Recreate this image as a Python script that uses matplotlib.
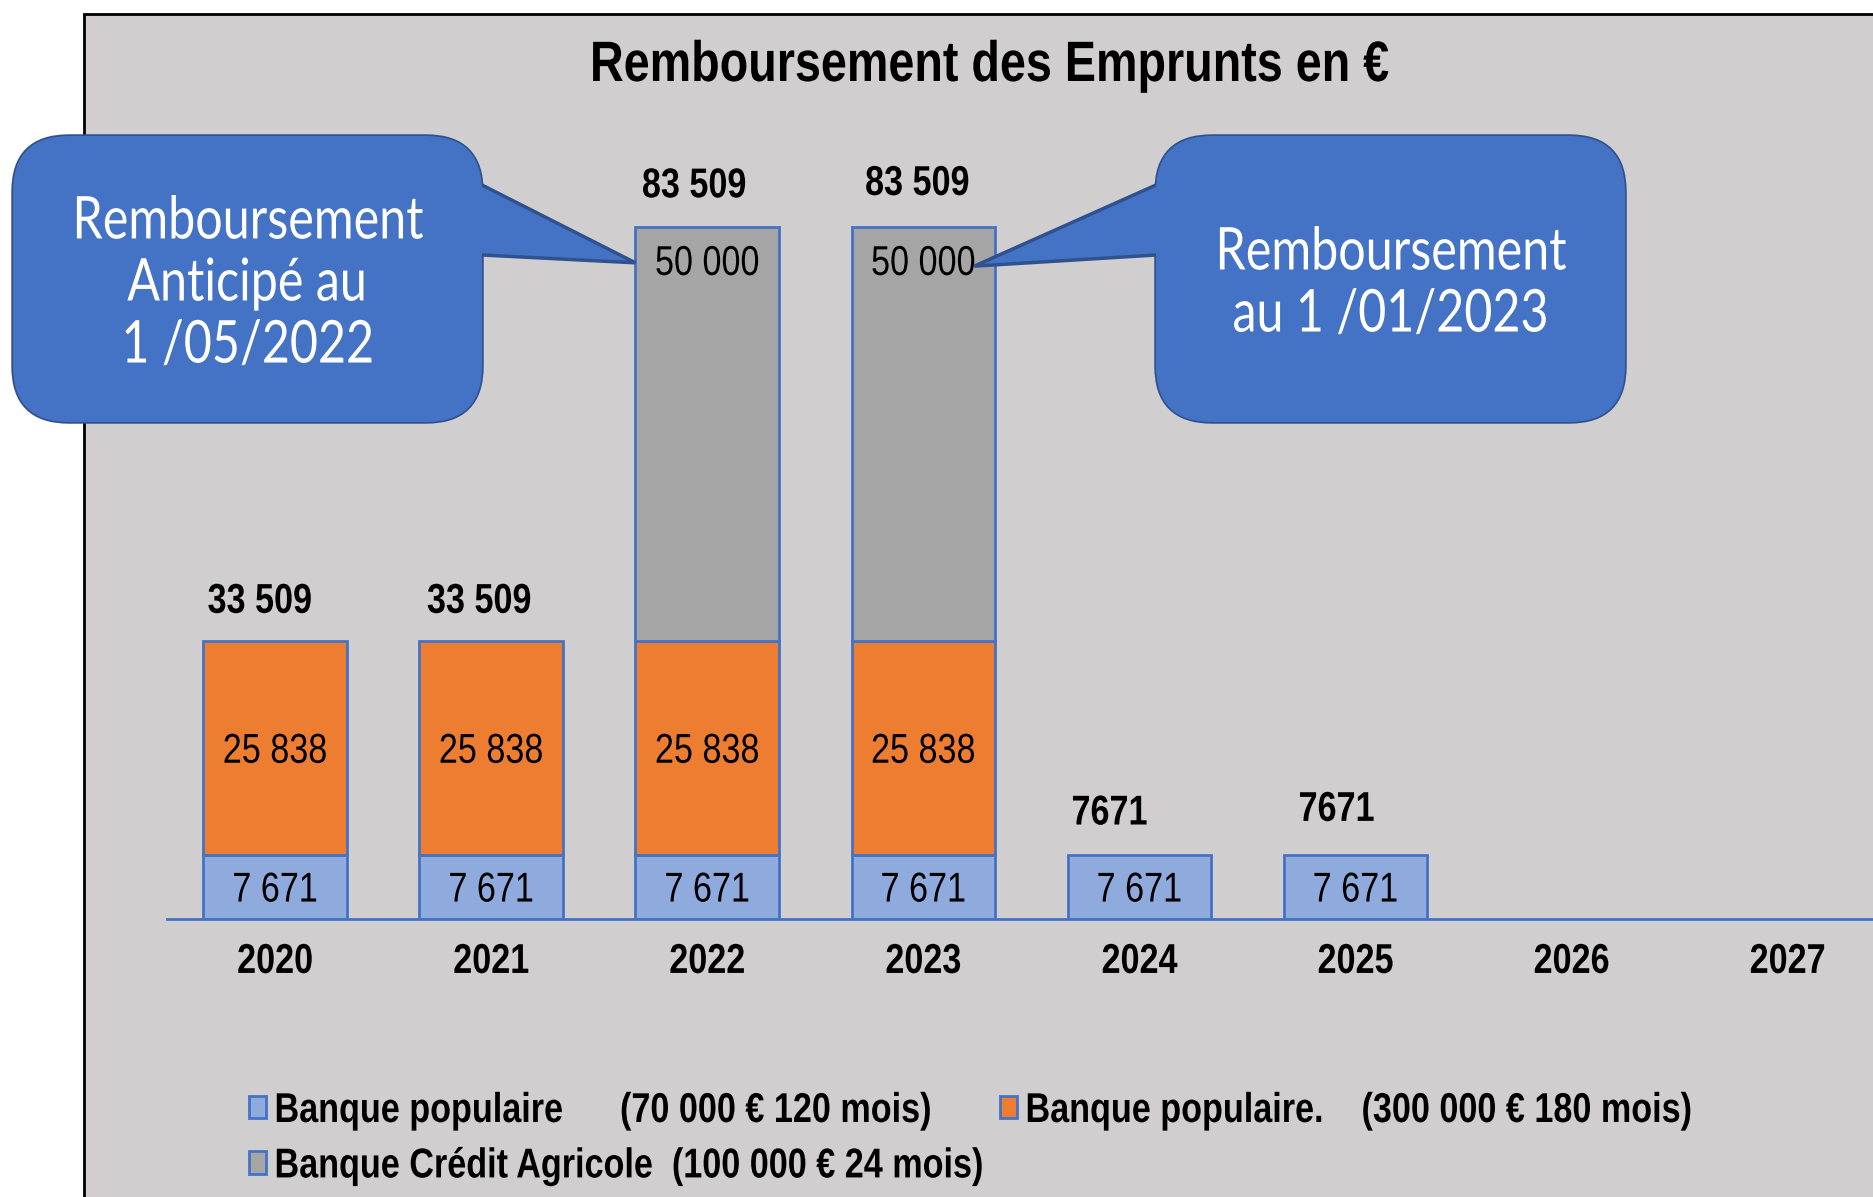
import matplotlib
matplotlib.use('Agg')
import matplotlib.pyplot as plt
from matplotlib import font_manager as fm
from matplotlib.patches import FancyBboxPatch, Polygon, Rectangle
from matplotlib.transforms import IdentityTransform, Affine2D
from matplotlib.patheffects import AbstractPathEffect
import numpy as np

# ---------------- data ----------------
years = ['2020', '2021', '2022', '2023', '2024', '2025', '2026', '2027']
bp_small = [7671, 7671, 7671, 7671, 7671, 7671, 0, 0]          # Banque populaire 70 000 €
bp_large = [25838, 25838, 25838, 25838, 0, 0, 0, 0]            # Banque populaire 300 000 €
credit_agricole = [0, 0, 50000, 50000, 0, 0, 0, 0]             # Crédit Agricole 100 000 €
total_labels = ['33 509', '33 509', '83 509', '83 509', '7671', '7671', '', '']
series_names = ['Banque populaire      (70 000 € 120 mois)',
                'Banque populaire.    (300 000 € 180 mois)',
                'Banque Crédit Agricole  (100 000 € 24 mois)']
title = 'Remboursement des Emprunts en €'
callout_left = 'Remboursement\nAnticipé au\n1 /05/2022'
callout_right = 'Remboursement\nau 1 /01/2023'

# layout tweaks for the hand-placed total labels (offsets in points)
total_dx_pt = [-11, -8.6, -9.4, -4.3, -21.6, -13.7, 0, 0]
total_dy_pt = [28.5, 28.5, 29.4, 31.1, 30.2, 32.8, 0, 0]

# ---------------- fonts ----------------
names = {f.name for f in fm.fontManager.ttflist}
def pick(*cands):
    for c in cands:
        if c in names:
            return c
    return 'DejaVu Sans'
MAIN = pick('Liberation Sans Narrow', 'Arial Narrow', 'Liberation Sans', 'Arial')
CALL = pick('Lato', 'Liberation Sans')
plt.rcParams['font.family'] = [MAIN, 'DejaVu Sans']
SX = 0.82 if 'Narrow' not in MAIN else 1.0


class Squeeze(AbstractPathEffect):
    """Draw text horizontally condensed (as in the reference's narrow font)."""
    def __init__(self, sx=SX, anchor='center'):
        super().__init__(offset=(0., 0.))
        self.sx = sx
        self.anchor = anchor

    def draw_path(self, renderer, gc, tpath, affine, rgbFace=None):
        ext = tpath.get_extents(affine)
        cx = ext.x0 if self.anchor == 'left' else (ext.x0 + ext.x1) / 2
        t = affine + Affine2D().translate(-cx, 0).scale(self.sx, 1).translate(cx, 0)
        renderer.draw_path(gc, tpath, t, rgbFace)


def sq(anchor='center', sx=SX):
    return [Squeeze(sx, anchor)]

# ---------------- figure ----------------
W, H = 1874, 1197
fig = plt.figure(figsize=(W / 100, H / 100), dpi=100)
fig.patch.set_facecolor('white')
frame = Rectangle((84 / W, -0.05), 1.0, 1.05 - 14 / H, transform=fig.transFigure,
                  facecolor='#D0CECE', edgecolor='black', lw=2, zorder=-10)
fig.add_artist(frame)

ax = fig.add_axes([167 / W, 1 - 919 / H, 1 - 167 / W, (919 - 120) / H])
ax.set_facecolor('none')
ax.set_zorder(1)

x = np.arange(len(years))
width = 0.664
edge = '#4472C4'
cols = ['#8FAADC', '#ED7D31', '#A5A5A5']
series = [bp_small, bp_large, credit_agricole]
bottom = np.zeros(len(years))
handles = []
for k, (s, c, name) in enumerate(zip(series, cols, series_names)):
    vals = np.array(s, dtype=float)
    m = vals > 0
    bc = ax.bar(x[m], vals[m], width, bottom=bottom[m], color=c, edgecolor=edge,
                lw=2, label=name, zorder=2)
    handles.append(bc)
    for xi, b, v in zip(x[m], bottom[m], vals[m]):
        lab = f'{int(v):,}'.replace(',', ' ')
        if k == 2:
            ax.annotate(lab, xy=(xi, b + v), xytext=(0, -26.5), textcoords='offset points',
                        ha='center', va='center', fontsize=30, color='black', zorder=3,
                        path_effects=sq())
        else:
            ax.annotate(lab, xy=(xi, b + v / 2), xytext=(0, -2.4), textcoords='offset points',
                        ha='center', va='center', fontsize=30, color='black', zorder=3,
                        path_effects=sq())
    bottom = bottom + vals

for xi, tot, lab, dx, dy in zip(x, bottom, total_labels, total_dx_pt, total_dy_pt):
    if lab:
        ax.annotate(lab, xy=(xi, tot), xytext=(dx, dy), textcoords='offset points',
                    ha='center', va='center', fontsize=30, fontweight='bold', zorder=3,
                    path_effects=sq())

ax.set_xlim(-0.5, 7.4)
ax.set_ylim(0, 96440)
ax.set_xticks(x, years)
for t in ax.get_xticklabels():
    t.set_fontweight('bold')
    t.set_fontsize(30)
    t.set_path_effects(sq())
ax.tick_params(axis='x', length=0, pad=16.5)
ax.set_yticks([])
for sp in ['left', 'right', 'top']:
    ax.spines[sp].set_visible(False)
ax.spines['bottom'].set_color(edge)
ax.spines['bottom'].set_linewidth(2)

fig.text(990 / W, 1 - 66 / H, title, ha='center', va='center', fontsize=41,
         fontweight='bold', path_effects=sq())

# ---------------- legend ----------------
leg_kw = dict(loc='upper left', frameon=False, prop={'weight': 'bold', 'size': 30},
              handlelength=0.4, handleheight=0.45, handletextpad=0.2,
              labelspacing=0.37, borderpad=0, borderaxespad=0)
legA = fig.legend(handles=[handles[0], handles[2]],
                  labels=[series_names[0], series_names[2]],
                  bbox_to_anchor=(249 / W, 1 - 1091 / H), **leg_kw)
legB = fig.legend(handles=[handles[1]], labels=[series_names[1]],
                  bbox_to_anchor=(1000 / W, 1 - 1091 / H), **leg_kw)
for lg in (legA, legB):
    for t in lg.get_texts():
        t.set_path_effects(sq('left'))

# ---------------- callouts ----------------
fig.canvas.draw()
def callout(box, attach, tip_data, side, text):
    x0, y0, x1, y1 = box  # top-left pixel coords
    tx, ty = ax.transData.transform(tip_data)
    fc, ec = '#4472C4', '#2F528F'
    rect_kw = dict(boxstyle='round,pad=0,rounding_size=56', transform=IdentityTransform())
    fig.add_artist(FancyBboxPatch((x0, H - y1), x1 - x0, y1 - y0, facecolor=fc,
                                  edgecolor=ec, lw=2.5, zorder=5, **rect_kw))
    xs = x1 if side == 'right' else x0
    inset = -15 if side == 'right' else 15
    tail = [(xs + inset, H - attach[0]), (xs, H - attach[0]), (tx, ty),
            (xs, H - attach[1]), (xs + inset, H - attach[1])]
    fig.add_artist(Polygon(tail, closed=True, facecolor=fc, edgecolor=ec, lw=2.5,
                           transform=IdentityTransform(), zorder=6))
    fig.add_artist(FancyBboxPatch((x0, H - y1), x1 - x0, y1 - y0, facecolor=fc,
                                  edgecolor='none', zorder=7, **rect_kw))
    fig.text(((x0 + x1) / 2) / W, 1 - ((y0 + y1) / 2 + 5) / H, text, ha='center',
             va='center', color='white', fontsize=42.5, linespacing=1.21, zorder=8,
             multialignment='center', family=[CALL, 'DejaVu Sans'],
             path_effects=sq())

callout((13, 136, 482, 422), (185, 255), (2 - width / 2, 79200), 'right', callout_left)
callout((1156, 136, 1625, 422), (185, 255), (3.236, 78800), 'left', callout_right)

fig.savefig('out.png', dpi=100)
